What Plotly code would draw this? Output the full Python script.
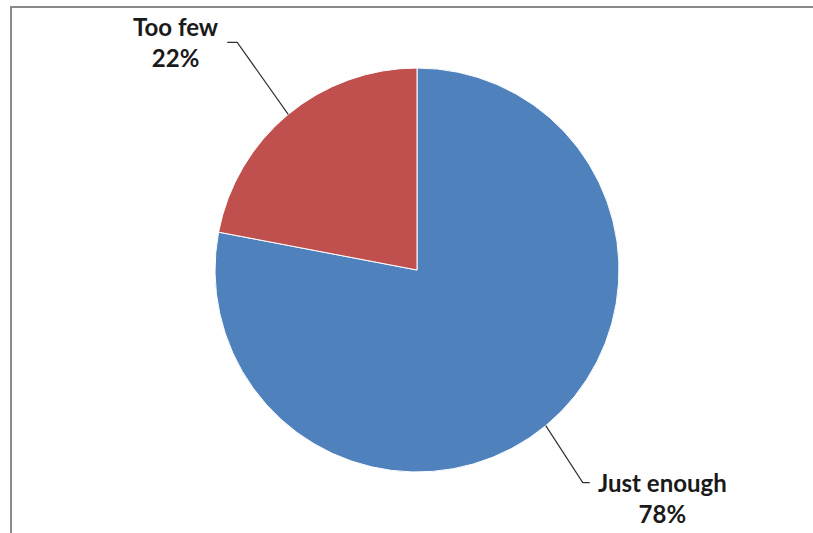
import math
import plotly.graph_objects as go

labels = ["Just enough", "Too few"]
values = [78, 22]
colors = ["#4F81BD", "#C0504D"]

W, H = 813, 533
CX, CY, R = 417, 270, 202

fig = go.Figure(go.Pie(
    labels=labels, values=values, sort=False, direction="clockwise", rotation=0,
    marker=dict(colors=colors, line=dict(color="white", width=1)),
    textinfo="none", hoverinfo="label+percent", showlegend=False,
    domain=dict(x=[(CX - R) / W, (CX + R) / W], y=[1 - (CY + R) / H, 1 - (CY - R) / H]),
))

def px(x):
    return x / W

def py(y):
    return 1 - y / H

FS = 24
total = sum(values)
# leader-line styling per slice: (dx, dy) elbow offset, horizontal tail, text side, vertical anchoring
styles = [dict(elbow=(37, 57), tail=7, side="right", yanchor="top", yshift=17),
          dict(elbow=(-51, -72), tail=-10, side="left", yanchor="middle", yshift=0)]
shapes = []
annotations = []
cum = 0
for lab, v, st in zip(labels, values, styles):
    mid = (cum + v / 2) / total * 2 * math.pi
    cum += v
    sx = CX + R * math.sin(mid)
    sy = CY - R * math.cos(mid)
    ex, ey = sx + st["elbow"][0], sy + st["elbow"][1]
    tx = ex + st["tail"]
    shapes.append(dict(type="path", xref="paper", yref="paper",
                       path=f"M {px(sx)} {py(sy)} L {px(ex)} {py(ey)} L {px(tx)} {py(ey)}",
                       line=dict(color="#333333", width=1.2)))
    pct = round(v / total * 100)
    annotations.append(dict(
        xref="paper", yref="paper", x=px(tx + (6 if st["side"] == "right" else -6)), y=py(ey),
        xanchor="left" if st["side"] == "right" else "right", yanchor=st["yanchor"],
        yshift=st["yshift"], showarrow=False, align="center",
        text=f"<b>{lab}<br>{pct}%</b>",
        font=dict(family="Lato, Open Sans, sans-serif", size=FS, color="#1a1a1a"),
    ))

# chart border (left and top edges visible)
shapes.append(dict(type="path", xref="paper", yref="paper",
                   path=f"M {px(W + 5)} {py(7)} L {px(11)} {py(7)} L {px(11)} {py(H + 5)}",
                   line=dict(color="#8a8a8a", width=2)))

fig.update_layout(
    width=W, height=H, margin=dict(l=0, r=0, t=0, b=0),
    paper_bgcolor="white", plot_bgcolor="white",
    shapes=shapes, annotations=annotations,
)
fig.write_html("out.html", config={"displayModeBar": False},
               post_script="document.body.style.margin='0';document.body.style.overflow='hidden';")
